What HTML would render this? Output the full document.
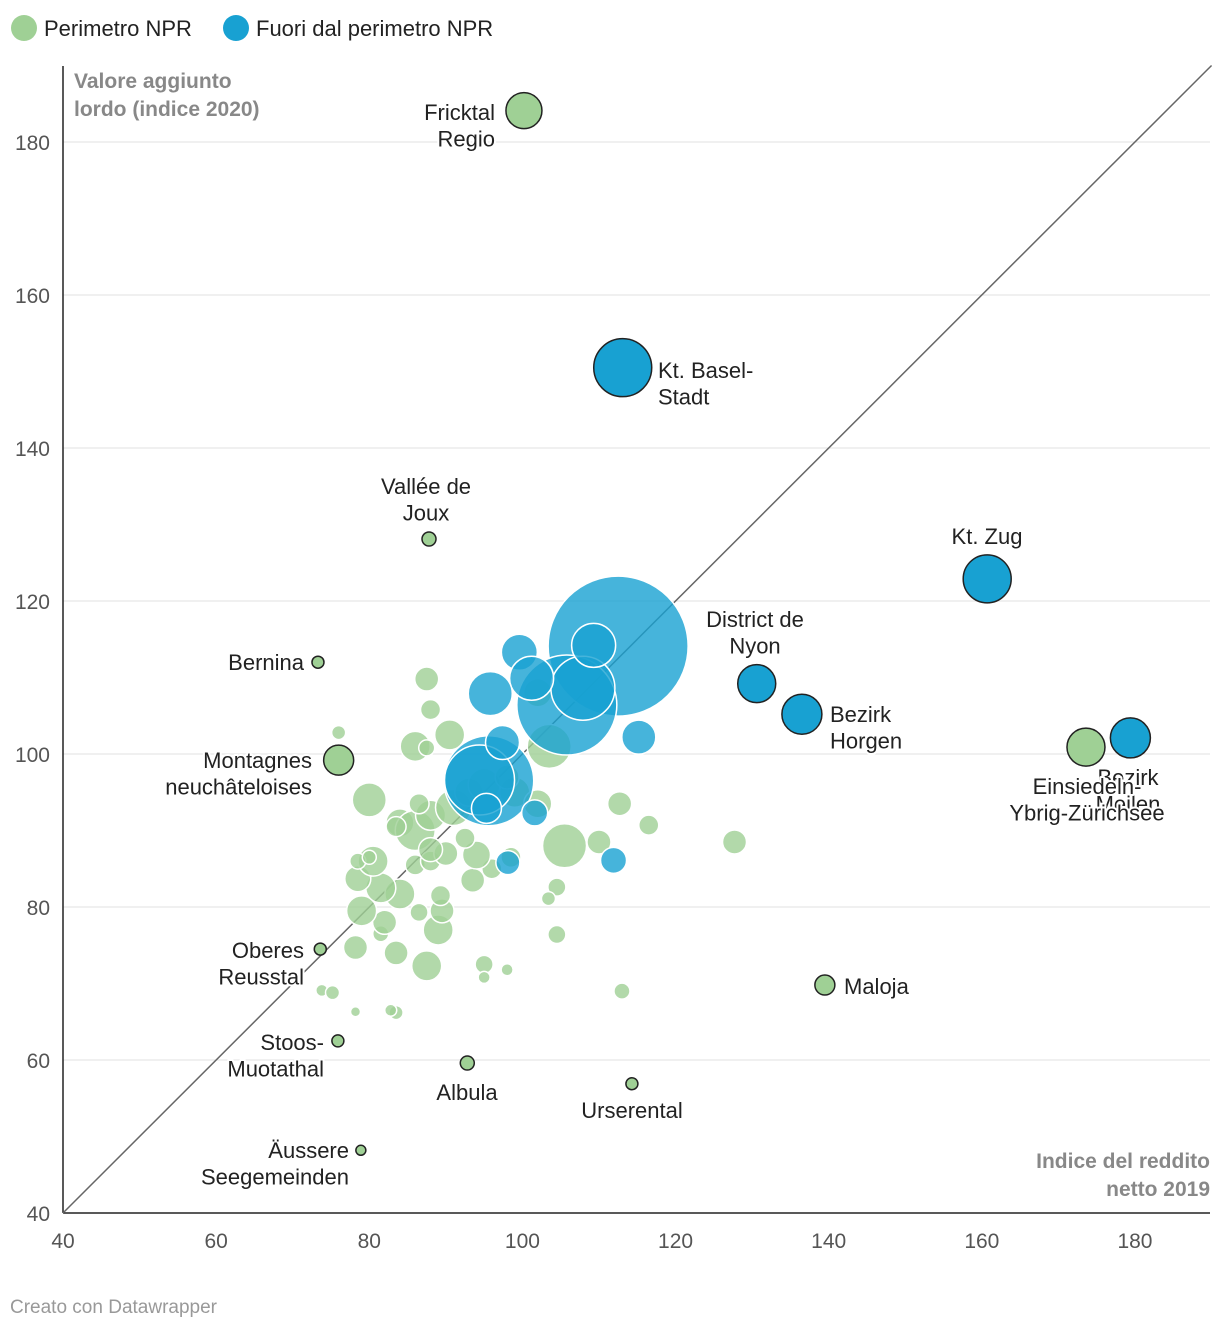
<!DOCTYPE html>
<html><head><meta charset="utf-8">
<style>
body{margin:0;background:#fff;}
svg{display:block;font-family:"Liberation Sans",Roboto,sans-serif;}
</style></head>
<body>
<svg id="chart" width="1220" height="1330" viewBox="0 0 1220 1330" xmlns="http://www.w3.org/2000/svg">
<g>
<circle cx="24" cy="28" r="13" fill="#9fd095"/>
<text x="44" y="36" font-size="22" fill="#222">Perimetro NPR</text>
<circle cx="236" cy="28" r="13" fill="#18a1d2"/>
<text x="256" y="36" font-size="22" fill="#222">Fuori dal perimetro NPR</text>
</g>
<g id="grid"></g>
<g id="marks"></g>
<g id="labels"></g>
<text x="74" y="88" font-size="21" font-weight="bold" fill="#888">Valore aggiunto</text>
<text x="74" y="116" font-size="21" font-weight="bold" fill="#888">lordo (indice 2020)</text>
<text x="1210" y="1168" font-size="21" font-weight="bold" fill="#888" text-anchor="end">Indice del reddito</text>
<text x="1210" y="1196" font-size="21" font-weight="bold" fill="#888" text-anchor="end">netto 2019</text>
<text x="10" y="1313" font-size="19" fill="#999">Creato con Datawrapper</text>
</svg>
<script>
const xTicks=[40,60,80,100,120,140,160,180];
const yTicks=[40,60,80,100,120,140,160,180];
// [x, y, radius]
const greenCluster=[[87.5,109.8,12],[88,105.8,10],[86,101,15],[90.5,102.5,15],[103.5,101,22],[102,108,14],[80,94,17],[84,91,14],[86,90,20],[88,92,15],[91,93,18],[93,95,14],[95,96,16],[99,95,15],[102,93.5,14],[105.5,88,22],[112.7,93.5,12],[116.5,90.7,10],[110,88.5,12],[127.7,88.5,12],[104.5,82.6,9],[103.4,81.1,7],[104.5,76.4,9],[113,69,8],[98,71.8,6],[95,72.5,9],[95,70.8,6],[87.5,72.3,15],[83.5,74,12],[78.2,74.7,12],[81.5,76.5,8],[82,78,12],[79,79.5,15],[86.5,79.3,9],[89,77,15],[89.5,79.5,12],[84,81.7,15],[89.3,81.5,10],[81.5,82.5,15],[78.5,83.7,13],[80.5,86,15],[78.5,86,8],[80,86.5,7],[86,85.5,10],[88,86,10],[90,87,12],[93.5,83.5,12],[96,85,10],[98.5,86.5,10],[94,86.8,14],[92.5,89,10],[88,87.5,12],[83.5,90.5,10],[86.5,93.5,10],[76,102.8,7],[73.8,69.1,6],[75.2,68.8,7],[78.2,66.3,5],[83.5,66.2,7],[82.8,66.5,6],[87.5,100.8,8],[98,97,12]];
const blueCluster=[[112.5,114.1,70],[105.8,106.4,50],[107.9,108.6,32],[109.3,114.2,22],[99.6,113.3,18],[101.2,109.9,22],[95.8,107.9,22],[95.6,96.5,45],[94.4,96.6,35],[97.4,101.5,17],[95.3,92.9,15],[101.6,92.3,13],[98.1,85.8,12],[111.9,86.1,13],[115.2,102.2,17]];
const greenNames=["Fricktal Regio","Vallée de Joux","Bernina","Montagnes neuchâteloises","Oberes Reusstal","Stoos-Muotathal","Äussere Seegemeinden","Albula","Urserental","Maloja","Einsiedeln-Ybrig-Zürichsee"];
const greenX=[100.2,87.8,73.3,76.0,73.6,75.9,78.9,92.8,114.3,139.5,173.6];
const greenY=[184.1,128.1,112.0,99.2,74.5,62.5,48.2,59.6,56.9,69.8,100.9];
const greenR=[18,7,6,15,6,6,5,7,6,10,19];
const blueNames=["Kt. Basel-Stadt","Kt. Zug","District de Nyon","Bezirk Horgen","Bezirk Meilen"];
const blueX=[113.1,160.7,130.6,136.5,179.4];
const blueY=[150.5,122.9,109.2,105.2,102.1];
const blueR=[29,24,19,20,20];

const NS="http://www.w3.org/2000/svg";
const X=v=>63+(v-40)*7.657, Y=v=>1213-(v-40)*7.65;
function el(t,a,p){const e=document.createElementNS(NS,t);for(const k in a)e.setAttribute(k,a[k]);p.appendChild(e);return e;}
const grid=document.getElementById('grid'),marks=document.getElementById('marks'),labels=document.getElementById('labels');
yTicks.forEach(v=>{
 if(v>40){const l=el('line',{x1:63,x2:1210,y1:Y(v),y2:Y(v),stroke:'#e2e2e2','stroke-width':1},grid);
 }
 const t=el('text',{x:50,y:Y(v)+8,'font-size':21,fill:'#555','text-anchor':'end'},grid);t.textContent=v;
 
});
xTicks.forEach(v=>{
 const t=el('text',{x:X(v),y:1248,'font-size':21,fill:'#555','text-anchor':'middle'},grid);t.textContent=v;
 
});
let a=el('line',{x1:63,x2:63,y1:66,y2:1213,stroke:'#222','stroke-width':1.5},grid);

a=el('line',{x1:63,x2:1210,y1:1213,y2:1213,stroke:'#222','stroke-width':1.5},grid);

a=el('line',{x1:X(40),y1:Y(40),x2:X(190),y2:Y(190),stroke:'#666','stroke-width':1.5},grid);


greenCluster.forEach(d=>{const c=el('circle',{cx:X(d[0]),cy:Y(d[1]),r:d[2],fill:'#9fd095','fill-opacity':0.8,stroke:'#fff','stroke-width':1.5},marks);
 });
blueCluster.forEach(d=>{const c=el('circle',{cx:X(d[0]),cy:Y(d[1]),r:d[2],fill:'#18a1d2','fill-opacity':0.8,stroke:'#fff','stroke-width':1.5},marks);
 });
greenX.forEach((v,i)=>{const c=el('circle',{cx:X(v),cy:Y(greenY[i]),r:greenR[i],fill:'#9fd095',stroke:'#222','stroke-width':1.5},marks);
 });
blueX.forEach((v,i)=>{const c=el('circle',{cx:X(v),cy:Y(blueY[i]),r:blueR[i],fill:'#18a1d2',stroke:'#222','stroke-width':1.5},marks);
 });

// labels: [lines, x, y(first baseline), anchor]
const labs=[
 [["Bezirk","Meilen"],1128,785,'middle'],
 [["Fricktal","Regio"],495,120,'end'],
 [["Vallée de","Joux"],426,494,'middle'],
 [["Bernina"],304,670,'end'],
 [["Montagnes","neuchâteloises"],312,768,'end'],
 [["Oberes","Reusstal"],304,958,'end'],
 [["Stoos-","Muotathal"],324,1050,'end'],
 [["Äussere","Seegemeinden"],349,1158,'end'],
 [["Albula"],467,1100,'middle'],
 [["Urserental"],632,1118,'middle'],
 [["Maloja"],844,994,'start'],
 [["Einsiedeln-","Ybrig-Zürichsee"],1087,794,'middle'],
 [["Kt. Basel-","Stadt"],658,378,'start'],
 [["Kt. Zug"],987,544,'middle'],
 [["District de","Nyon"],755,627,'middle'],
 [["Bezirk","Horgen"],830,722,'start']
];
labs.forEach(L=>{
 const t=el('text',{x:L[1],y:L[2],'font-size':22,fill:'#222','text-anchor':L[3],stroke:'#fff','stroke-width':4,'paint-order':'stroke','stroke-linejoin':'round'},labels);
 L[0].forEach((s,j)=>{const ts=el('tspan',{x:L[1],dy:j?26.5:0},t);ts.textContent=s;});
 
});
</script>
</body></html>
